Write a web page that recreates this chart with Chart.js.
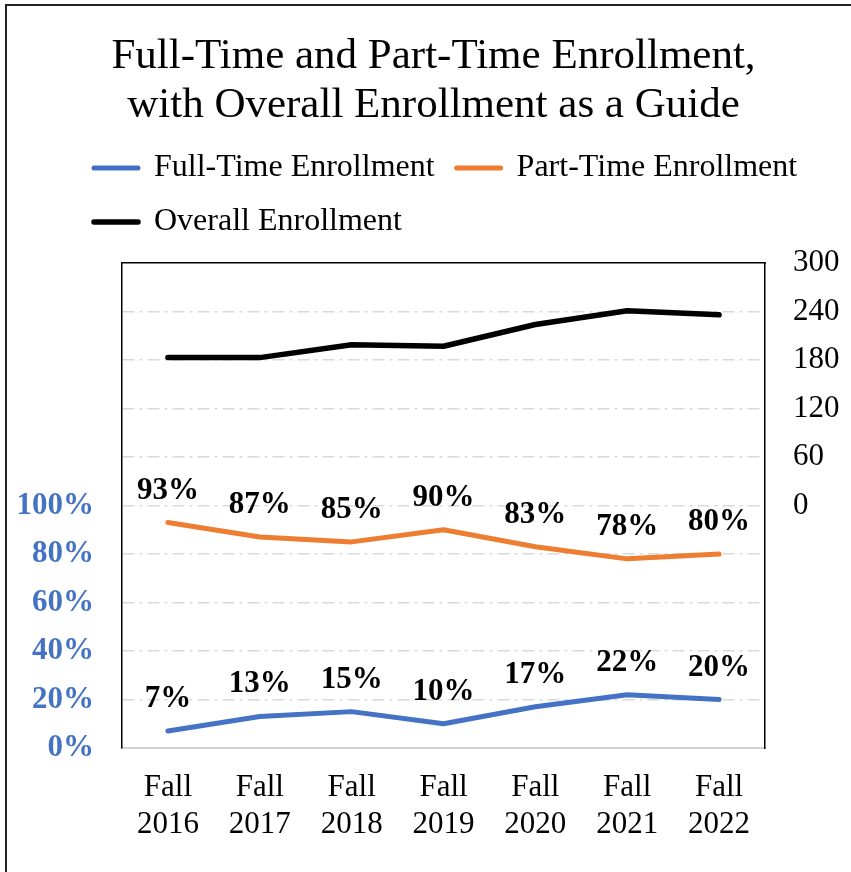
<!DOCTYPE html>
<html>
<head>
  <title>Full-Time and Part-Time Enrollment</title>
  <script src="https://cdn.jsdelivr.net/npm/chart.js"></script>
  <style>
    body { margin: 0; overflow: hidden; background: #fff; }
    #frame {
      position: absolute; left: 5px; top: 4px; width: 900px; height: 900px;
      border-top: 2px solid #222; border-left: 2px solid #222; pointer-events: none;
    }
  </style>
</head>
<body>
  <div id="frame"></div>
  <canvas id="enrollment-chart" width="851" height="872"></canvas>
  <script>
    // Chart data
    const terms = [['Fall', '2016'], ['Fall', '2017'], ['Fall', '2018'], ['Fall', '2019'],
                   ['Fall', '2020'], ['Fall', '2021'], ['Fall', '2022']];
    const fullTimePct = [7, 13, 15, 10, 17, 22, 20];
    const partTimePct = [93, 87, 85, 90, 83, 78, 80];
    const overallCount = [183, 183, 199, 197, 224, 241, 236];

    Chart.defaults.font.family = "'Liberation Serif', 'Times New Roman', serif";
    Chart.defaults.color = '#000';

    // Percent labels above the two percentage lines
    const pctLabels = {
      id: 'pctLabels',
      afterDatasetsDraw(chart) {
        const ctx = chart.ctx;
        ctx.save();
        ctx.font = "bold 31px 'Liberation Serif'";
        ctx.fillStyle = '#000';
        ctx.textAlign = 'center';
        ctx.textBaseline = 'middle';
        [0, 1].forEach(i => {
          const ds = chart.data.datasets[i];
          chart.getDatasetMeta(i).data.forEach((pt, j) => {
            ctx.fillText(ds.data[j] + '%', pt.x, pt.y - 32);
          });
        });
        ctx.restore();
      }
    };

    // legend rows start under the left edge of the plot labels, not at the canvas edge
    const legendOffset = {
      id: 'legendOffset',
      afterLayout(chart) {
        const lg = chart.legend;
        lg.left = 94 - lg.options.labels.padding;
      }
    };

    const lineStyle = {
      borderWidth: 5,
      borderCapStyle: 'round',
      borderJoinStyle: 'round',
      pointRadius: 0,
      tension: 0,
    };

    const ctx = document.getElementById('enrollment-chart').getContext('2d');
    new Chart(ctx, {
      type: 'line',
      data: {
        labels: terms,
        datasets: [
          { ...lineStyle, label: 'Full-Time Enrollment', data: fullTimePct,
            borderColor: '#4472C4', backgroundColor: '#4472C4', yAxisID: 'y' },
          { ...lineStyle, label: 'Part-Time Enrollment', data: partTimePct,
            borderColor: '#ED7D31', backgroundColor: '#ED7D31', yAxisID: 'y' },
          { ...lineStyle, label: 'Overall Enrollment', data: overallCount, borderWidth: 5.5,
            borderColor: '#000', backgroundColor: '#000', yAxisID: 'y2' },
        ],
      },
      options: {
        responsive: false,
        animation: false,
        layout: { padding: { left: 16, right: 0, top: 0, bottom: 0 } },
        plugins: {
          title: {
            display: true,
            text: ['Full-Time and Part-Time Enrollment,', 'with Overall Enrollment as a Guide'],
            color: '#000',
            font: { size: 43, weight: 'normal', lineHeight: 1.14 },
            padding: { top: 32, bottom: 0 },
          },
          legend: {
            position: 'top',
            align: 'start',
            labels: { color: '#000', font: { size: 32 }, boxWidth: 44, boxHeight: 0, padding: 22 },
          },
          tooltip: { enabled: false },
        },
        scales: {
          x: {
            position: 'bottom',
            offset: true,
            grid: { display: false, drawTicks: false },
            border: { color: '#d0d0d0', width: 2 },
            ticks: { color: '#000', font: { size: 31, lineHeight: 1.2 }, padding: 21,
                     maxRotation: 0, autoSkip: false },
            afterFit: s => { s.height = 124; },
          },
          // top axis only closes the plot frame
          x2: {
            type: 'category',
            position: 'top',
            offset: true,
            grid: { display: false, drawTicks: false },
            border: { color: '#000', width: 1.5 },
            ticks: { display: false },
            afterFit: s => { s.height = 15; },
          },
          y: {
            position: 'left',
            min: 0,
            max: 200,
            ticks: {
              stepSize: 20,
              color: '#4472C4',
              font: { size: 31, weight: 'bold' },
              padding: 28,
              callback: v => (v <= 100 ? v + '%' : ''),
            },
            grid: {
              drawTicks: false,
              lineWidth: 1.5,
              color: c => (c.tick && (c.tick.value === 0 || c.tick.value === 200) ? 'rgba(0,0,0,0)' : '#d9d9d9'),
            },
            border: { color: '#000', width: 1.5, dash: [12, 5, 3, 5] },
            afterFit: s => { s.width = 106; },
          },
          y2: {
            position: 'right',
            min: -300,
            max: 300,
            ticks: {
              stepSize: 60,
              color: '#000',
              font: { size: 31 },
              padding: 28,
              callback: v => (v >= 0 ? v : ''),
            },
            grid: { display: false, drawTicks: false },
            border: { color: '#000', width: 1.5 },
            afterFit: s => { s.width = 86; },
          },
        },
      },
      plugins: [pctLabels, legendOffset],
    });
  </script>
</body>
</html>
